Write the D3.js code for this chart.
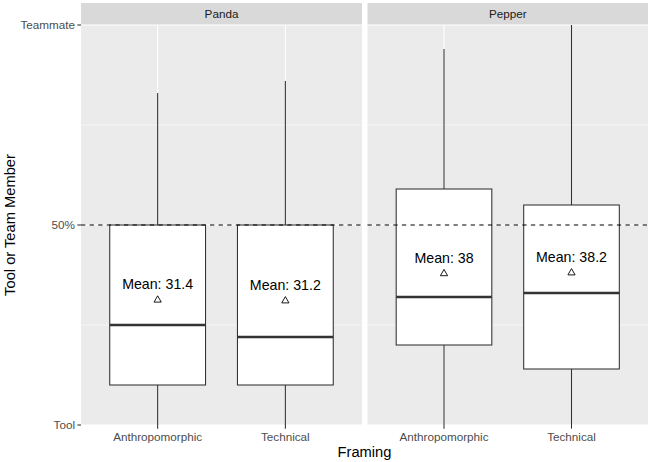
<!DOCTYPE html>
<html><head><meta charset="utf-8">
<script src="https://cdn.jsdelivr.net/npm/d3@7"></script>
<style>body{margin:0;background:#fff}svg{display:block;font-family:"Liberation Sans",Arial,sans-serif}</style>
</head><body><svg id="c" width="650" height="462"></svg>
<script>
const robots = ["Panda", "Pepper"];
const framings = ["Anthropomorphic", "Technical"];
// stats per robot, per framing
const whiskerLow = [[0, 0], [0, 0]];
const q1 = [[10, 10], [20, 14]];
const medians = [[25, 22], [32, 33]];
const q3 = [[50, 50], [59, 55]];
const whiskerHigh = [[83, 86], [94, 100]];
const means = [[31.4, 31.2], [38, 38.2]];
const yTickValues = [0, 50, 100];
const yTickLabels = ["Tool", "50%", "Teammate"];
const refLine = 50;

const svg = d3.select("#c");
const panelTop = 25, panelBottom = 425;
const panels = [{x0: 81, x1: 362}, {x0: 367.5, x1: 648}];
const y = d3.scaleLinear().domain([0, 100]).range([panelBottom, panelTop]);

const grey20 = "#333333";

panels.forEach((p, pi) => {
  // discrete scale with 0.6 expansion on each side
  const xl = d3.scaleLinear().domain([0.4, 2.6]).range([p.x0, p.x1]);
  const cx = i => xl(i + 1);
  const unit = xl(1) - xl(0);
  const g = svg.append("g");
  // strip
  g.append("rect").attr("x", p.x0).attr("y", 3).attr("width", p.x1 - p.x0).attr("height", panelTop - 3).attr("fill", "#d9d9d9");
  g.append("text").attr("x", (p.x0 + p.x1) / 2).attr("y", 14).attr("dy", "0.35em")
    .attr("text-anchor", "middle").attr("font-size", 11.7).attr("fill", "#1a1a1a").text(robots[pi]);
  // panel bg
  g.append("rect").attr("x", p.x0).attr("y", panelTop).attr("width", p.x1 - p.x0).attr("height", panelBottom - panelTop).attr("fill", "#ebebeb");
  // minor grid
  [25, 75].forEach(v => g.append("line").attr("x1", p.x0).attr("x2", p.x1).attr("y1", y(v)).attr("y2", y(v)).attr("stroke", "#fff").attr("stroke-width", 0.53));
  yTickValues.forEach(v => g.append("line").attr("x1", p.x0).attr("x2", p.x1).attr("y1", y(v)).attr("y2", y(v)).attr("stroke", "#fff").attr("stroke-width", 1.07));
  framings.forEach((f, i) => g.append("line").attr("x1", cx(i)).attr("x2", cx(i)).attr("y1", panelTop).attr("y2", panelBottom).attr("stroke", "#fff").attr("stroke-width", 1.07));

  const bw = 0.75 * unit;
  framings.forEach((f, i) => {
    const c = cx(i);
    // whiskers
    g.append("line").attr("x1", c).attr("x2", c).attr("y1", y(q3[pi][i])).attr("y2", y(whiskerHigh[pi][i])).attr("stroke", grey20).attr("stroke-width", 1.07);
    g.append("line").attr("x1", c).attr("x2", c).attr("y1", y(q1[pi][i])).attr("y2", y(whiskerLow[pi][i])).attr("stroke", grey20).attr("stroke-width", 1.07);
    g.append("rect").attr("x", c - bw / 2).attr("y", y(q3[pi][i])).attr("width", bw).attr("height", y(q1[pi][i]) - y(q3[pi][i]))
      .attr("fill", "#fff").attr("stroke", grey20).attr("stroke-width", 1.07);
    g.append("line").attr("x1", c - bw / 2).attr("x2", c + bw / 2).attr("y1", y(medians[pi][i])).attr("y2", y(medians[pi][i])).attr("stroke", grey20).attr("stroke-width", 2.5);
    // mean triangle
    const my = y(means[pi][i]);
    const s = 3.6;
    g.append("path").attr("d", `M${c},${my - s}L${c + s},${my + s * 0.75}L${c - s},${my + s * 0.75}Z`).attr("fill", "none").attr("stroke", "#000").attr("stroke-width", 0.9);
    g.append("text").attr("x", c).attr("y", my - 15).attr("dy", "0.35em").attr("text-anchor", "middle").attr("font-size", 14.2).attr("fill", "#000")
      .text("Mean: " + means[pi][i]);
  });
  // dashed line
  g.append("line").attr("x1", p.x0).attr("x2", p.x1).attr("y1", y(refLine)).attr("y2", y(refLine)).attr("stroke", "#000").attr("stroke-width", 1.07).attr("stroke-dasharray", "4.3,4.3");

  // x axis ticks
  framings.forEach((f, i) => {
    g.append("line").attr("x1", cx(i)).attr("x2", cx(i)).attr("y1", panelBottom).attr("y2", panelBottom + 3.7).attr("stroke", grey20).attr("stroke-width", 1.07);
    g.append("text").attr("x", cx(i)).attr("y", panelBottom + 12).attr("dy", "0.35em").attr("text-anchor", "middle").attr("font-size", 11.7).attr("fill", "#4d4d4d").text(f);
  });
});

// y axis
yTickValues.forEach((v, i) => {
  svg.append("line").attr("x1", panels[0].x0 - 3.7).attr("x2", panels[0].x0).attr("y1", y(v)).attr("y2", y(v)).attr("stroke", grey20).attr("stroke-width", 1.07);
  svg.append("text").attr("x", panels[0].x0 - 6).attr("y", y(v)).attr("dy", "0.35em").attr("text-anchor", "end").attr("font-size", 11.7).attr("fill", "#4d4d4d").text(yTickLabels[i]);
});
svg.append("text").attr("transform", `translate(10,${(panelTop + panelBottom) / 2}) rotate(-90)`).attr("dy", "0.35em").attr("text-anchor", "middle").attr("font-size", 14.7).attr("fill", "#000").text("Tool or Team Member");
svg.append("text").attr("x", (panels[0].x0 + panels[1].x1) / 2).attr("y", 452).attr("dy", "0.35em").attr("text-anchor", "middle").attr("font-size", 14.7).attr("fill", "#000").text("Framing");
</script></body></html>
